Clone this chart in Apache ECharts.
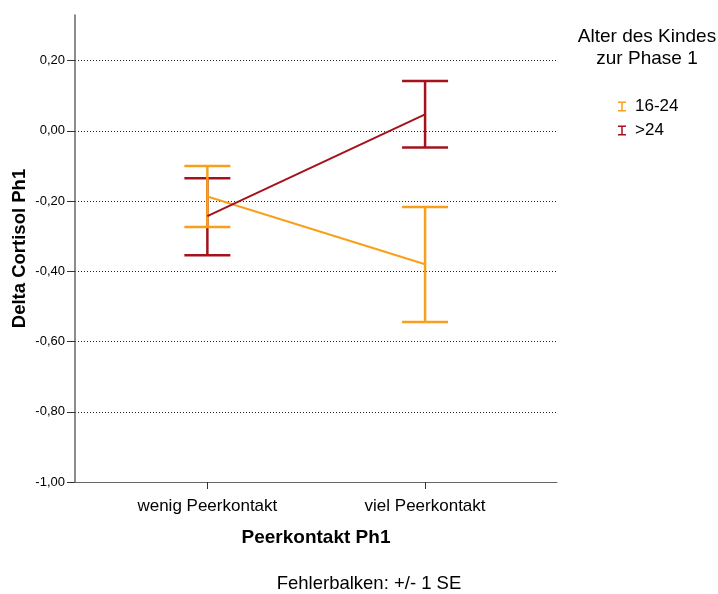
<!DOCTYPE html>
<html>
<head>
<meta charset="utf-8">
<script src="https://cdn.jsdelivr.net/npm/echarts@6/dist/echarts.min.js"></script>
<style>
    html, body { margin: 0; padding: 0; background: #fff; }
    #chart { width: 718px; height: 594px; }
</style>
</head>
<body>
<div id="chart"></div>
<script>
// categories on the x axis and the two age groups
const categories = ['wenig Peerkontakt', 'viel Peerkontakt'];
const groups = ['16-24', '>24'];

// means and +/- 1 SE bounds
const mean1624 = [-0.187, -0.380];
const low1624 = [-0.274, -0.544];
const high1624 = [-0.100, -0.217];

const meanOver24 = [-0.243, 0.047];
const lowOver24 = [-0.354, -0.047];
const highOver24 = [-0.135, 0.142];

const yTicks = [-1, -0.8, -0.6, -0.4, -0.2, 0, 0.2];

const colors = ['#F8A01C', '#A5121C'];
const font = 'Liberation Sans, Arial, sans-serif';
const iIcon = 'path://M0,0H8V1.5H4.75V8.5H8V10H0V8.5H3.25V1.5H0Z';

function toPoints(means) {
    return means.map((v, i) => [i, v]);
}

function toBars(lows, highs) {
    return lows.map((v, i) => [i, v, highs[i]]);
}

// draws a capped vertical error bar
function renderErrorBar(params, api) {
    const x = api.value(0);
    const lo = api.coord([x, api.value(1)]);
    const hi = api.coord([x, api.value(2)]);
    const half = 23;
    const style = { stroke: api.visual('color'), lineWidth: 2.5 };
    return {
        type: 'group',
        children: [
            { type: 'line', shape: { x1: lo[0], y1: lo[1], x2: hi[0], y2: hi[1] }, style: style },
            { type: 'line', shape: { x1: lo[0] - half, y1: lo[1], x2: lo[0] + half, y2: lo[1] }, style: style },
            { type: 'line', shape: { x1: hi[0] - half, y1: hi[1], x2: hi[0] + half, y2: hi[1] }, style: style }
        ]
    };
}

const chart = echarts.init(document.getElementById('chart'));

const option = {
    animation: false,
    textStyle: { fontFamily: font },
    title: [
        {
            text: 'Alter des Kindes\nzur Phase 1',
            left: 647,
            top: 26,
            padding: 0,
            textAlign: 'center',
            textStyle: { fontFamily: font, fontSize: 19, fontWeight: 'normal', color: '#000', lineHeight: 22 }
        },
        {
            text: 'Fehlerbalken: +/- 1 SE',
            left: 369,
            top: 573,
            padding: 0,
            textAlign: 'center',
            textStyle: { fontFamily: font, fontSize: 18.5, fontWeight: 'normal', color: '#000', lineHeight: 22 }
        }
    ],
    legend: {
        orient: 'vertical',
        left: 618,
        top: 98,
        padding: 0,
        itemWidth: 8,
        itemHeight: 10,
        itemGap: 7,
        textStyle: { fontFamily: font, fontSize: 17, color: '#000', padding: [0, 0, 0, 4] },
        data: groups.map((g, i) => ({ name: g, icon: iIcon, itemStyle: { color: colors[i] } }))
    },
    grid: { left: 75, right: 161, top: 15, bottom: 112 },
    xAxis: {
        type: 'value',
        min: -0.608,
        max: 1.606,
        axisLine: { onZero: false, lineStyle: { color: '#666', width: 1 } },
        axisTick: { customValues: [0, 1], length: 7, lineStyle: { color: '#333' } },
        axisLabel: {
            customValues: [0, 1],
            formatter: v => categories[Math.round(v)] || '',
            fontFamily: font,
            fontSize: 17,
            color: '#000',
            margin: 16
        },
        splitLine: { show: false },
        name: 'Peerkontakt Ph1',
        nameLocation: 'middle',
        nameGap: 46,
        nameMoveOverlap: false,
        nameTextStyle: { fontFamily: font, fontSize: 19, fontWeight: 'bold', color: '#000' }
    },
    yAxis: {
        type: 'value',
        min: -1,
        max: 0.33,
        axisLine: { show: true, onZero: false, lineStyle: { color: '#666', width: 1.5 } },
        axisTick: { show: true, customValues: yTicks, length: 8, lineStyle: { color: '#333' } },
        axisLabel: {
            customValues: yTicks,
            formatter: v => v.toFixed(2).replace('.', ','),
            fontFamily: font,
            fontSize: 13,
            color: '#000',
            margin: 10
        },
        splitLine: { show: true, lineStyle: { color: '#222', type: [1, 2], width: 1 } },
        name: 'Delta Cortisol Ph1',
        nameLocation: 'middle',
        nameGap: 46,
        nameMoveOverlap: false,
        nameTextStyle: { fontFamily: font, fontSize: 18.5, fontWeight: 'bold', color: '#000' }
    },
    series: [
        {
            name: groups[0],
            type: 'line',
            data: toPoints(mean1624),
            showSymbol: false,
            lineStyle: { color: colors[0], width: 2 },
            itemStyle: { color: colors[0] },
            z: 3
        },
        {
            name: groups[1],
            type: 'line',
            data: toPoints(meanOver24),
            showSymbol: false,
            lineStyle: { color: colors[1], width: 2 },
            itemStyle: { color: colors[1] },
            z: 3
        },
        {
            name: groups[1],
            type: 'custom',
            renderItem: renderErrorBar,
            data: toBars(lowOver24, highOver24),
            itemStyle: { color: colors[1] },
            encode: { x: 0, y: [1, 2] },
            z: 2
        },
        {
            name: groups[0],
            type: 'custom',
            renderItem: renderErrorBar,
            data: toBars(low1624, high1624),
            itemStyle: { color: colors[0] },
            encode: { x: 0, y: [1, 2] },
            z: 2
        }
    ]
};

chart.setOption(option);
</script>
</body>
</html>
